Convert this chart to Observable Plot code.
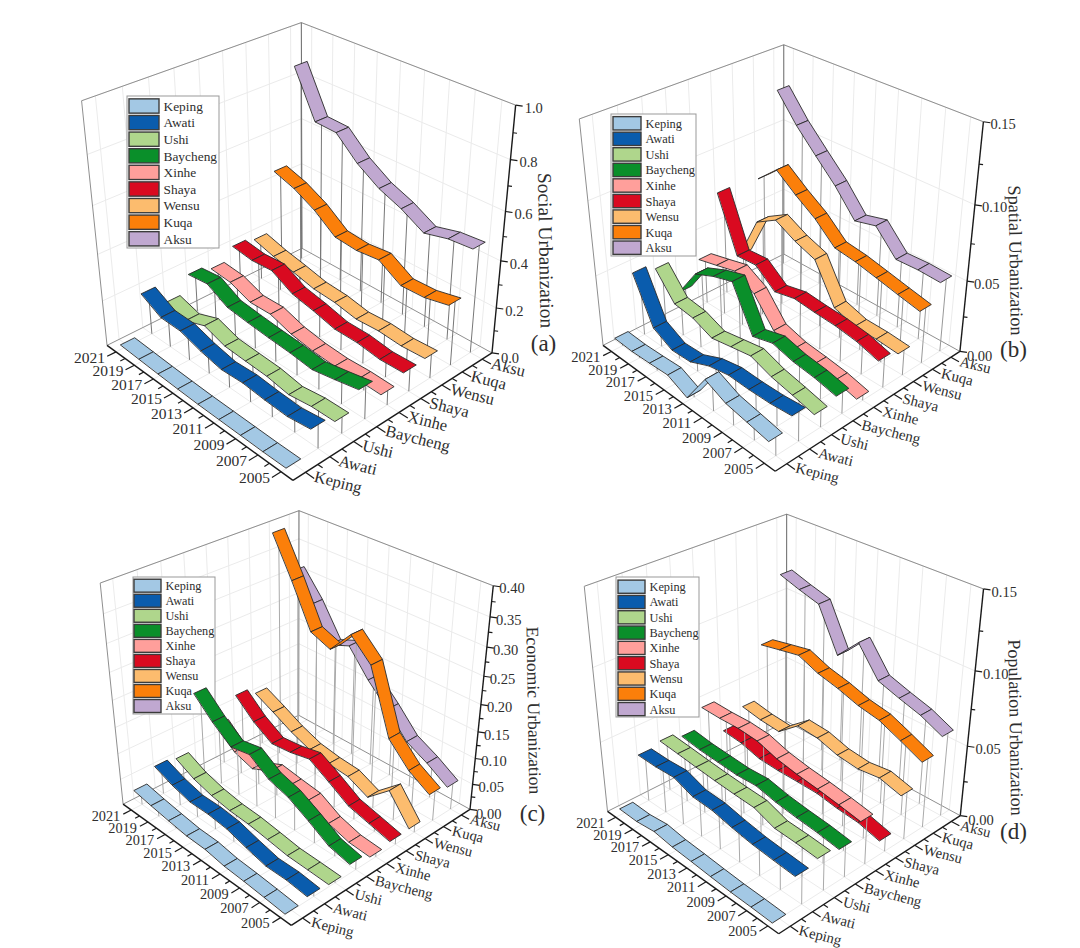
<!DOCTYPE html>
<html><head><meta charset="utf-8">
<script src="https://cdn.jsdelivr.net/npm/d3@7"></script>
<script src="https://cdn.jsdelivr.net/npm/@observablehq/plot@0.6"></script>
<style>html,body{margin:0;background:#fff}svg{display:block}</style></head>
<body><div id="c"></div>
<script>
const counties=["Keping","Awati","Ushi","Baycheng","Xinhe","Shaya","Wensu","Kuqa","Aksu"];
const colors=["#a3c8e4","#0a5cad","#afd68c","#0a8f2a","#ff9f9b","#d90a20","#fcbc6e","#fb7f0a","#c0a8d0"];
const years=[2021,2019,2017,2015,2013,2011,2009,2007,2005];
// Social urbanization (years 2021 ... 2005)
const socialKeping=[0.021,0.016,0.011,0.007,0.004,0.003,0.002,0.001,0.002];
const socialAwati=[0.197,0.148,0.146,0.117,0.097,0.102,0.093,0.088,0.102];
const socialUshi=[0.108,0.080,0.115,0.083,0.077,0.072,0.055,0.069,0.071];
const socialBaycheng=[0.183,0.194,0.144,0.133,0.124,0.117,0.105,0.124,0.145];
const socialXinhe=[0.160,0.151,0.115,0.117,0.085,0.069,0.062,0.066,0.063];
const socialShaya=[0.214,0.201,0.207,0.156,0.136,0.111,0.110,0.096,0.099];
const socialWensu=[0.198,0.171,0.151,0.128,0.121,0.102,0.107,0.099,0.104];
const socialKuqa=[0.461,0.430,0.381,0.311,0.302,0.312,0.253,0.256,0.278];
const socialAksu=[0.867,0.675,0.670,0.583,0.522,0.483,0.429,0.454,0.462];
// Spatial urbanization
const spatialKeping=[0.0081,0.0075,0.0081,0.0090,0.0024,0.0250,0.0184,0.0157,0.0129];
const spatialAwati=[0.0470,0.0161,0.0089,0.0096,0.0160,0.0190,0.0186,0.0190,0.0206];
const spatialUshi=[0.0426,0.0255,0.0238,0.0181,0.0209,0.0236,0.0184,0.0153,0.0118];
const spatialBaycheng=[0.0179,0.0392,0.0454,0.0498,0.0198,0.0239,0.0201,0.0183,0.0151];
const spatialXinhe=[0.0345,0.0380,0.0417,0.0336,0.0156,0.0112,0.0095,0.0074,0.0037];
const spatialShaya=[0.0750,0.0375,0.0386,0.0273,0.0306,0.0292,0.0283,0.0261,0.0216];
const spatialWensu=[0.0233,0.0548,0.0633,0.0558,0.0505,0.0244,0.0197,0.0193,0.0179];
const spatialKuqa=[0.0722,0.0849,0.0741,0.0645,0.0515,0.0494,0.0460,0.0425,0.0392];
const spatialAksu=[0.1269,0.1092,0.0947,0.0806,0.0634,0.0671,0.0514,0.0519,0.0511];
// Economic urbanization
const economicKeping=[0.0350,0.0284,0.0227,0.0177,0.0169,0.0104,0.0081,0.0048,0.0012];
const economicAwati=[0.0614,0.0467,0.0369,0.0370,0.0327,0.0215,0.0118,0.0121,0.0076];
const economicUshi=[0.0558,0.0378,0.0272,0.0208,0.0185,0.0130,0.0071,0.0060,0.0045];
const economicBaycheng=[0.1634,0.1289,0.1013,0.1086,0.0834,0.0718,0.0507,0.0273,0.0178];
const economicXinhe=[0.0826,0.0497,0.0377,0.0552,0.0493,0.0442,0.0222,0.0103,0.0071];
const economicShaya=[0.1229,0.0902,0.0674,0.0714,0.0799,0.0576,0.0335,0.0234,0.0129];
const economicWensu=[0.1085,0.0904,0.0710,0.0563,0.0498,0.0466,0.0283,0.0647,0.0141];
const economicKuqa=[0.3910,0.3216,0.2452,0.2304,0.2740,0.2373,0.1211,0.0818,0.0580];
const economicAksu=[0.3094,0.2638,0.2045,0.2199,0.1738,0.1369,0.0953,0.0751,0.0504];
// Population urbanization
const populationKeping=[0.0046,0.0042,0.0059,0.0039,0.0030,0.0019,0.0010,0.0006,0.0000];
const populationAwati=[0.0359,0.0356,0.0364,0.0312,0.0305,0.0274,0.0250,0.0236,0.0224];
const populationUshi=[0.0385,0.0372,0.0357,0.0344,0.0334,0.0327,0.0273,0.0265,0.0252];
const populationBaycheng=[0.0345,0.0325,0.0315,0.0305,0.0312,0.0281,0.0261,0.0246,0.0223];
const populationXinhe=[0.0482,0.0478,0.0481,0.0468,0.0422,0.0395,0.0376,0.0353,0.0326];
const populationShaya=[0.0239,0.0225,0.0186,0.0179,0.0180,0.0179,0.0156,0.0143,0.0102];
const populationWensu=[0.0349,0.0324,0.0312,0.0429,0.0418,0.0374,0.0357,0.0376,0.0336];
const populationKuqa=[0.0735,0.0763,0.0790,0.0731,0.0695,0.0648,0.0620,0.0556,0.0488];
const populationAksu=[0.1165,0.1119,0.1079,0.0792,0.0942,0.0750,0.0701,0.0657,0.0588];

const panels=[
 {tag:"(a)",title:"Social Urbanization",zMax:1,dec:1,major:[0,.2,.4,.6,.8,1],minor:[.1,.3,.5,.7,.9],
  series:[socialKeping,socialAwati,socialUshi,socialBaycheng,socialXinhe,socialShaya,socialWensu,socialKuqa,socialAksu],
  c:{F:[292,480],L:[107,345],R:[492,352],B:[301,248],BT:[301,22],LT:[81,100],RT:[515,105]},
  leg:{x1:127,x2:219,y1:96,y2:248,sx1:129,sx2:159,tx:163,y0:106,dy:16.6,fs:13.4},tp:[545,250],lp:[543,343],drop:"#777",yf:15.5,cf:16.5,tf:19.5,vx:9},
 {tag:"(b)",title:"Spatial Urbanization",zMax:.15,dec:2,major:[0,.05,.1,.15],minor:[.025,.075,.125],
  series:[spatialKeping,spatialAwati,spatialUshi,spatialBaycheng,spatialXinhe,spatialShaya,spatialWensu,spatialKuqa,spatialAksu],
  c:{F:[774,471],L:[603,345],R:[960,350],B:[783,254],BT:[783,44],LT:[579,118],RT:[983,122]},
  leg:{x1:611,x2:696,y1:114,y2:256,sx1:613,sx2:641,tx:645,y0:123.3,dy:15.55,fs:12.4},tp:[1015,260],lp:[1013,349],drop:"#999",yf:14.6,cf:15,tf:18.2,vx:7},
 {tag:"(c)",title:"Economic Urbanization",zMax:.4,dec:2,major:[0,.05,.1,.15,.2,.25,.3,.35,.4],minor:[.025,.075,.125,.175,.225,.275,.325,.375],
  series:[economicKeping,economicAwati,economicUshi,economicBaycheng,economicXinhe,economicShaya,economicWensu,economicKuqa,economicAksu],
  c:{F:[290,925],L:[123,804],R:[470,808],B:[298,715],BT:[298,510],LT:[100,582],RT:[493,586]},
  leg:{x1:133,x2:215,y1:577,y2:714,sx1:134,sx2:161,tx:165,y0:585.7,dy:15.04,fs:12.2},tp:[533,710],lp:[532,813],drop:"#aaa",yf:14.3,cf:14.7,tf:17.6,vx:6},
 {tag:"(d)",title:"Population Urbanization",zMax:.15,dec:2,major:[0,.05,.1,.15],minor:[.025,.075,.125],
  series:[populationKeping,populationAwati,populationUshi,populationBaycheng,populationXinhe,populationShaya,populationWensu,populationKuqa,populationAksu],
  c:{F:[778,934],L:[607,810],R:[960,814],B:[786,722],BT:[786,513],LT:[584,586],RT:[983,589]},
  leg:{x1:616,x2:699,y1:577,y2:717,sx1:618,sx2:645,tx:649,y0:586.7,dy:15.3,fs:12.3},tp:[1015,727],lp:[1013,831],drop:"#aaa",yf:14.3,cf:14.7,tf:18,vx:8}
];
function solve(A,b){const n=b.length;A=A.map((r,i)=>[...r,b[i]]);for(let i=0;i<n;i++){let m=i;for(let k=i+1;k<n;k++)if(Math.abs(A[k][i])>Math.abs(A[m][i]))m=k;[A[i],A[m]]=[A[m],A[i]];for(let k=i+1;k<n;k++){const f=A[k][i]/A[i][i];for(let j=i;j<=n;j++)A[k][j]-=f*A[i][j];}}const x=Array(n).fill(0);for(let i=n-1;i>=0;i--){let s=A[i][n];for(let j=i+1;j<n;j++)s-=A[i][j]*x[j];x[i]=s/A[i][i];}return x;}
function fit(c){const pts=[[0,0,0,c.F],[1,0,0,c.L],[0,1,0,c.R],[1,1,0,c.B],[1,1,1,c.BT],[1,0,1,c.LT],[0,1,1,c.RT]];const R=[],Y=[];
 for(const [u,v,w,p] of pts){const x=p[0]/500,y=p[1]/500;R.push([u,v,w,1,0,0,0,0,-x*u,-x*v,-x*w]);Y.push(x);R.push([0,0,0,0,u,v,w,1,-y*u,-y*v,-y*w]);Y.push(y);}
 const n=11,N=Array.from({length:n},()=>Array(n).fill(0)),t=Array(n).fill(0);R.forEach((r,k)=>{for(let i=0;i<n;i++){t[i]+=r[i]*Y[k];for(let j=0;j<n;j++)N[i][j]+=r[i]*r[j];}});return solve(N,t);}
panels.forEach(p=>{p.P=fit(p.c);});
function proj(p,u,v,w){const P=p.P,d=P[8]*u+P[9]*v+P[10]*w+1;return [500*(P[0]*u+P[1]*v+P[2]*w+P[3])/d,500*(P[4]*u+P[5]*v+P[6]*w+P[7])/d];}
const U=y=>(y-2004)/18, V=i=>(i+.5)/9, halfV=.29/9;
const marks=[];
const link=(d,o)=>Plot.link(d,{x1:e=>e[0][0],y1:e=>e[0][1],x2:e=>e[1][0],y2:e=>e[1][1],...o});
const serif="Liberation Serif";
panels.forEach(p=>{
 const g=(u,v,w)=>proj(p,u,v,w);
 const uTicks=years.map(U), vTicks=counties.map((_,i)=>V(i));
 const grid=[];
 uTicks.forEach(u=>{grid.push([g(u,0,0),g(u,1,0)]);grid.push([g(u,1,0),g(u,1,1)]);});
 vTicks.forEach(v=>{grid.push([g(0,v,0),g(1,v,0)]);grid.push([g(1,v,0),g(1,v,1)]);});
 p.major.slice(1).forEach(z=>{const w=z/p.zMax;grid.push([g(1,0,w),g(1,1,w)]);grid.push([g(0,1,w),g(1,1,w)]);});
 marks.push(link(grid,{stroke:"#ebebeb",strokeWidth:1}));
 const edges=[[g(1,0,0),g(1,0,1)],[g(1,0,1),g(1,1,1)],[g(0,1,1),g(1,1,1)],[g(1,0,0),g(1,1,0)],[g(0,1,0),g(1,1,0)]];
 marks.push(link(edges,{stroke:"#8f8f8f",strokeWidth:1}));
 marks.push(link([[g(1,1,0),g(1,1,1)]],{stroke:"#666",strokeWidth:1}));
 const tf="#2e2e2e";
 const L=p.leg;
 marks.push(Plot.rect([0],{x1:()=>L.x1,x2:()=>L.x2,y1:()=>L.y1,y2:()=>L.y2,fill:"#fff",stroke:"#999",strokeWidth:1}));
 marks.push(Plot.rect(counties,{x1:()=>L.sx1,x2:()=>L.sx2,y1:(c,i)=>L.y0+i*L.dy-L.dy*.43,y2:(c,i)=>L.y0+i*L.dy+L.dy*.43,fill:c=>c,stroke:"#3c3c3c",strokeWidth:1.4}));
 marks.push(Plot.text(counties,{x:()=>L.tx,y:(c,i)=>L.y0+i*L.dy,text:c=>c,textAnchor:"start",fontFamily:serif,fontSize:L.fs,fill:tf}));
 for(let i=8;i>=0;i--){
  const vals=p.series[i].map(z=>z/p.zMax);
  const drops=vals.map((w,k)=>[g(U(years[k]),V(i),w),g(U(years[k]),V(i),0)]);
  marks.push(link(drops,{stroke:p.drop,strokeWidth:1}));
  const poly=[];
  for(let k=0;k<8;k++){const a=U(years[k]),b=U(years[k+1]);
   [[a,-1,vals[k]],[a,1,vals[k]],[b,1,vals[k+1]],[b,-1,vals[k+1]]].forEach(([u,s,w])=>{const q=g(u,V(i)+s*halfV,w);poly.push({x:q[0],y:q[1],seg:k,county:counties[i]});});}
  marks.push(Plot.line(poly,{x:"x",y:"y",z:"seg",fill:"county",stroke:"#2a2a2a",strokeWidth:.9,curve:"linear-closed"}));
 }
 const black=[[g(0,0,0),g(1,0,0)],[g(0,0,0),g(0,1,0)],[g(0,1,0),g(0,1,1)]];
 marks.push(link(black,{stroke:"#1a1a1a",strokeWidth:1.4}));
 const tk=[];
 years.forEach(y=>tk.push([g(U(y),0,0),g(U(y),-.04,0)]));
 d3.range(2006,2022,2).forEach(y=>tk.push([g(U(y),0,0),g(U(y),-.022,0)]));
 vTicks.forEach(v=>tk.push([g(0,v,0),g(-.04,v,0)]));
 d3.range(1,9).forEach(i=>tk.push([g(0,i/9,0),g(-.022,i/9,0)]));
 p.major.forEach(z=>{const q=g(0,1,z/p.zMax);tk.push([q,[q[0]+7,q[1]+1]]);});
 p.minor.forEach(z=>{const q=g(0,1,z/p.zMax);tk.push([q,[q[0]+4,q[1]+.5]]);});
 marks.push(link(tk,{stroke:"#1a1a1a",strokeWidth:1.2}));
 marks.push(Plot.text(years,{x:y=>g(U(y),0,0)[0]-11,y:y=>g(U(y),0,0)[1]+6,text:y=>String(y),textAnchor:"end",fontFamily:serif,fontSize:p.yf,fill:tf}));
 marks.push(Plot.text(counties,{x:(c,i)=>g(0,V(i),0)[0]+9,y:(c,i)=>g(0,V(i),0)[1]+4,text:c=>c,textAnchor:"start",rotate:14,fontFamily:serif,fontSize:p.cf,fill:tf}));
 marks.push(Plot.text(p.major,{x:z=>g(0,1,z/p.zMax)[0]+p.vx,y:z=>g(0,1,z/p.zMax)[1]+(z==0?5:3),text:z=>z.toFixed(p.dec),textAnchor:"start",fontFamily:serif,fontSize:14.5,fill:tf}));
 marks.push(Plot.text([p.title],{x:()=>p.tp[0],y:()=>p.tp[1],text:d=>d,rotate:89,fontFamily:serif,fontSize:p.tf,fill:tf}));
 marks.push(Plot.text([p.tag],{x:()=>p.lp[0],y:()=>p.lp[1],text:d=>d,fontFamily:serif,fontSize:23,fill:tf}));
});
const chart=Plot.plot({width:1080,height:948,margin:0,
 x:{domain:[0,1080],range:[0,1080],axis:null},y:{domain:[0,948],range:[0,948],axis:null},
 color:{type:"ordinal",domain:counties,range:colors},marks});
document.getElementById("c").append(chart);
</script></body></html>
